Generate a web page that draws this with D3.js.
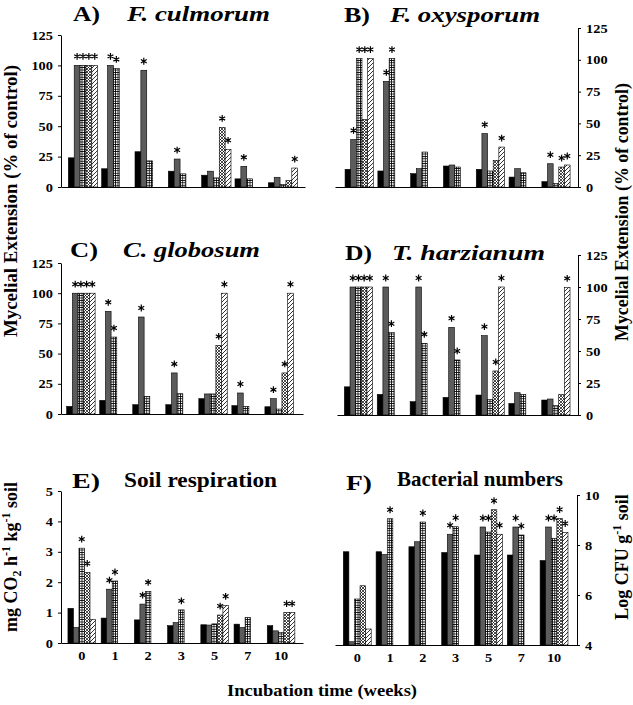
<!DOCTYPE html>
<html><head><meta charset="utf-8">
<script src="https://cdn.jsdelivr.net/npm/d3@7"></script>
<style>body{margin:0;background:#fff}</style>
</head><body>
<svg id="c" width="633" height="705"></svg>
<script>
const weeks = ["0","1","2","3","5","7","10"];
const treatments = ["T1","T2","T3","T4","T5"];
const pctTicks = [0,25,50,75,100,125];
const respTicks = [0,1,2,3,4,5];
const cfuTicks = [4,6,8,10];

// A) F. culmorum  (rows = treatments, cols = weeks)
const culmorumValues = [
  [24, 15, 29, 13, 9.7, 6.7, 3.5],
  [100, 100, 96, 23, 13, 17, 8],
  [100, 97.5, 21.5, 10.8, 7.5, 6.7, 2],
  [100, null, null, null, 49, null, 5.4],
  [100, null, null, null, 31, null, 15.6]
];
const culmorumStars = [[0,1],[0,2],[0,3],[0,4],[1,1],[1,2],[2,1],[3,1],[4,3],[4,4],[5,1],[6,4]];

// B) F. oxysporum
const oxysporumValues = [
  [13.9, 12.6, 10.5, 16.5, 13.9, 7.8, 4.2],
  [37.4, 83, 14.4, 17.3, 42, 14.4, 18.3],
  [101, 101, 27.5, 15.7, 12.6, 11.2, 2.9],
  [53, null, null, null, 21, null, 15.7],
  [101, null, null, null, 31.4, null, 17.3]
];
const oxysporumStars = [[0,1],[0,2],[0,3,101],[0,4],[1,1],[1,2],[4,1],[4,4],[6,1],[6,3],[6,4]];

// C) C. globosum
const globosumValues = [
  [6.3, 11.3, 7.7, 7.7, 12.7, 6.9, 6],
  [100, 85, 80.3, 34, 16.6, 17.4, 12.7],
  [100, 63.7, 14.6, 16.8, 16.6, 6.3, 4.1],
  [100, null, null, null, 56.8, null, 34],
  [100, null, null, null, 100, null, 100]
];
const globosumStars = [[0,1],[0,2],[0,3],[0,4],[1,1],[1,2],[2,1],[3,1],[4,3],[4,4],[5,1],[6,1],[6,3],[6,4]];

// D) T. harzianum
const harzianumValues = [
  [22, 16.1, 10.4, 13.8, 15.6, 9, 11.7],
  [100, 100, 100, 68.5, 62, 17.4, 12.5],
  [100, 64.3, 56, 43, 12.2, 16.1, 7.3],
  [100, null, null, null, 34.4, null, 16.1],
  [100, null, null, null, 100, null, 99.7]
];
const harzianumStars = [[0,1],[0,2],[0,3],[0,4],[1,1],[1,2],[2,1],[2,2],[3,1],[3,2],[4,1],[4,3],[4,4],[6,4]];

// E) Soil respiration
const respirationValues = [
  [1.14, 0.82, 0.76, 0.57, 0.6, 0.62, 0.57],
  [0.51, 1.77, 1.28, 0.67, 0.59, 0.51, 0.4],
  [3.12, 2.04, 1.7, 1.09, 0.63, 0.84, 0.35],
  [2.32, null, null, null, 0.92, null, 1.0],
  [0.78, null, null, null, 1.24, null, 1.0]
];
const respirationStars = [[0,2],[0,3],[1,1],[1,2],[2,1],[2,2],[3,2],[4,3],[4,4],[6,3],[6,4]];

// F) Bacterial numbers
const bacteriaValues = [
  [7.73, 7.73, 7.93, 7.7, 7.6, 7.6, 7.38],
  [4.13, 7.62, 8.13, 8.43, 8.72, 8.72, 8.72],
  [5.84, 9.05, 8.92, 8.73, 8.52, 8.4, 8.27],
  [6.37, null, null, null, 9.41, null, 9.06],
  [4.64, null, null, null, 8.43, null, 8.5]
];
const bacteriaStars = [[1,2],[2,2],[3,1],[3,2],[4,1],[4,2,8.72],[4,3],[4,4],[5,1],[5,2],[6,1],[6,2,8.72],[6,3],[6,4]];

const FONT = "'Liberation Serif','Times New Roman',Times,serif";
const svg = d3.select("#c");
const defs = svg.append("defs");

// patterns
const pg = defs.append("pattern").attr("id","pGrid").attr("patternUnits","userSpaceOnUse").attr("width",2.4).attr("height",2.4);
pg.append("rect").attr("width",2.4).attr("height",2.4).attr("fill","#fff");
pg.append("path").attr("d","M0,0.4H2.4M0.4,0V2.4").attr("stroke","#000").attr("stroke-width",0.8);
const pc = defs.append("pattern").attr("id","pCheck").attr("patternUnits","userSpaceOnUse").attr("width",3).attr("height",3);
pc.append("rect").attr("width",3).attr("height",3).attr("fill","#fff");
pc.append("path").attr("d","M0,0L3,3M3,0L0,3").attr("stroke","#000").attr("stroke-width",0.7);
const ph = defs.append("pattern").attr("id","pHatch").attr("patternUnits","userSpaceOnUse").attr("width",4).attr("height",4);
ph.append("rect").attr("width",4).attr("height",4).attr("fill","#fff");
ph.append("path").attr("d","M0,4L4,0M-1,1L1,-1M3,5L5,3").attr("stroke","#000").attr("stroke-width",0.8);

const fills = ["#000", "#5c5c5c", "url(#pGrid)", "url(#pCheck)", "url(#pHatch)"];

// asterisk marker path (6 arms), centred on 0,0
const R = 3.4;
const starPath = d3.range(3).map(k => {
  const a = Math.PI / 2 + k * Math.PI / 3;
  const dx = R * Math.cos(a), dy = R * Math.sin(a);
  return `M${dx.toFixed(2)},${dy.toFixed(2)}L${(-dx).toFixed(2)},${(-dy).toFixed(2)}`;
}).join("");

function addText(x, y, str, o) {
  const t = svg.append("text").attr("x", x).attr("y", y)
    .attr("font-family", FONT).attr("font-weight", o.weight || "bold")
    .attr("font-style", o.style || "normal").attr("font-size", o.size)
    .attr("text-anchor", o.anchor || "start").text(str);
  if (o.len) t.attr("textLength", o.len).attr("lengthAdjust", "spacingAndGlyphs");
  if (o.rotate) t.attr("transform", `rotate(-90,${x},${y})`);
  return t;
}

function panel(p) {
  const x = d3.scaleBand().domain(weeks).range(p.xr)
    .paddingInner(p.pi).paddingOuter(p.po).align(p.al);
  const xi = d3.scaleBand().domain(d3.range(treatments.length)).range([0, x.bandwidth()]);
  const y = d3.scaleLinear().domain(p.yd).range(p.yr);
  const base = y(p.yd[0]);
  const g = svg.append("g");

  p.values.forEach((row, s) => {
    row.forEach((v, i) => {
      if (v == null) return;
      g.append("rect")
        .attr("x", x(weeks[i]) + xi(s)).attr("y", y(v))
        .attr("width", xi.bandwidth()).attr("height", base - y(v))
        .attr("fill", fills[s]).attr("stroke", "#000").attr("stroke-width", 0.6);
    });
  });

  p.stars.forEach(st => {
    const [i, s, lvl] = st;
    const v = lvl != null ? lvl : p.values[s][i];
    g.append("path").attr("d", starPath)
      .attr("transform", `translate(${x(weeks[i]) + xi(s) + xi.bandwidth()/2},${y(v) - 9})`)
      .attr("stroke", "#000").attr("stroke-width", 1.2).attr("fill", "none");
  });

  // x axis
  const xa = svg.append("g").attr("transform", `translate(0,${base})`)
    .call(d3.axisBottom(x).tickSize(0).tickSizeOuter(0).tickPadding(8).tickFormat(p.xlabels ? (d => d) : () => ""));
  xa.select(".domain").attr("stroke-width", 1);
  xa.selectAll("text").attr("font-family", FONT).attr("font-weight","bold").attr("font-size", 13)
    .attr("transform", "scale(1.1,1)");

  // y axis
  const ax = p.right ? d3.axisRight(y) : d3.axisLeft(y);
  const ya = svg.append("g").attr("transform", `translate(${p.ax},0)`)
    .call(ax.tickValues(p.ticks).tickFormat(d3.format("d")).tickSize(3).tickSizeOuter(0).tickPadding(4));
  ya.selectAll("text").attr("font-family", FONT).attr("font-weight","bold").attr("font-size", 12.5)
    .attr("transform", "scale(1.15,1)");

  // titles
  addText(p.t1[0], p.t1[1], p.t1[2], {size: p.tsize, len: p.t1[3]});
  addText(p.t2[0], p.t2[1], p.t2[2], {size: p.tsize, len: p.t2[3], style: p.italic ? "italic" : "normal"});
}

panel({values: culmorumValues, stars: culmorumStars, xr:[61,305], pi:0.12, po:0.22, al:0.5,
  yd:[0,125], yr:[187,35], ax:61, ticks:pctTicks, tsize:22, italic:true,
  t1:[73,21,"A)",27], t2:[127,21,"F. culmorum",143]});
panel({values: oxysporumValues, stars: oxysporumStars, xr:[335,578], pi:0.14, po:0.274, al:0.56,
  yd:[0,125], yr:[187,28], ax:578, right:true, ticks:pctTicks, tsize:22, italic:true,
  t1:[344,22,"B)",26], t2:[390,22,"F. oxysporum",150]});
panel({values: globosumValues, stars: globosumStars, xr:[61,303], pi:0.14, po:0.233, al:0.37,
  yd:[0,125], yr:[414,263], ax:61, ticks:pctTicks, tsize:22, italic:true,
  t1:[70,257,"C)",28], t2:[123,257,"C. globosum",137]});
panel({values: harzianumValues, stars: harzianumStars, xr:[337,578], pi:0.14, po:0.233, al:0.48,
  yd:[0,125], yr:[415,255], ax:578, right:true, ticks:pctTicks, tsize:22, italic:true,
  t1:[345,260,"D)",27], t2:[392,260,"T. harzianum",153]});
panel({values: respirationValues, stars: respirationStars, xr:[61,303], pi:0.17, po:0.227, al:0.46,
  yd:[0,5], yr:[643,491], ax:61, ticks:respTicks, tsize:22, xlabels:true,
  t1:[72,488,"E)",28], t2:[124,487,"Soil respiration",153]});
panel({values: bacteriaValues, stars: bacteriaStars, xr:[335,577], pi:0.15, po:0.264, al:0.48,
  yd:[4,10], yr:[645,495], ax:577, right:true, ticks:cfuTicks, tsize:22, xlabels:true,
  t1:[346,490,"F)",26], t2:[397,486,"Bacterial numbers",166]});

// axis titles
addText(17, 201, "Mycelial Extension (% of control)", {size:18, anchor:"middle", rotate:true, len:272});
addText(628, 212, "Mycelial Extension (% of control)", {size:18, anchor:"middle", rotate:true, len:258});

// E y label with sub/superscripts
const el = svg.append("text").attr("x", 17).attr("y", 557).attr("text-anchor","middle")
  .attr("font-family", FONT).attr("font-weight","bold").attr("font-size", 18)
  .attr("transform", "rotate(-90,17,557)");
el.append("tspan").text("mg CO");
el.append("tspan").attr("font-size", 12).attr("dy", 4).text("2");
el.append("tspan").attr("dy", -4).text(" h");
el.append("tspan").attr("font-size", 12).attr("dy", -7).text("-1");
el.append("tspan").attr("dy", 7).text(" kg");
el.append("tspan").attr("font-size", 12).attr("dy", -7).text("-1");
el.append("tspan").attr("dy", 7).text(" soil");

const fl = svg.append("text").attr("x", 628).attr("y", 557).attr("text-anchor","middle")
  .attr("font-family", FONT).attr("font-weight","bold").attr("font-size", 18)
  .attr("transform", "rotate(-90,628,557)");
fl.append("tspan").text("Log CFU g");
fl.append("tspan").attr("font-size", 12).attr("dy", -7).text("-1");
fl.append("tspan").attr("dy", 7).text(" soil");

addText(227, 696, "Incubation time (weeks)", {size:17, len:190});
</script>
</body></html>
